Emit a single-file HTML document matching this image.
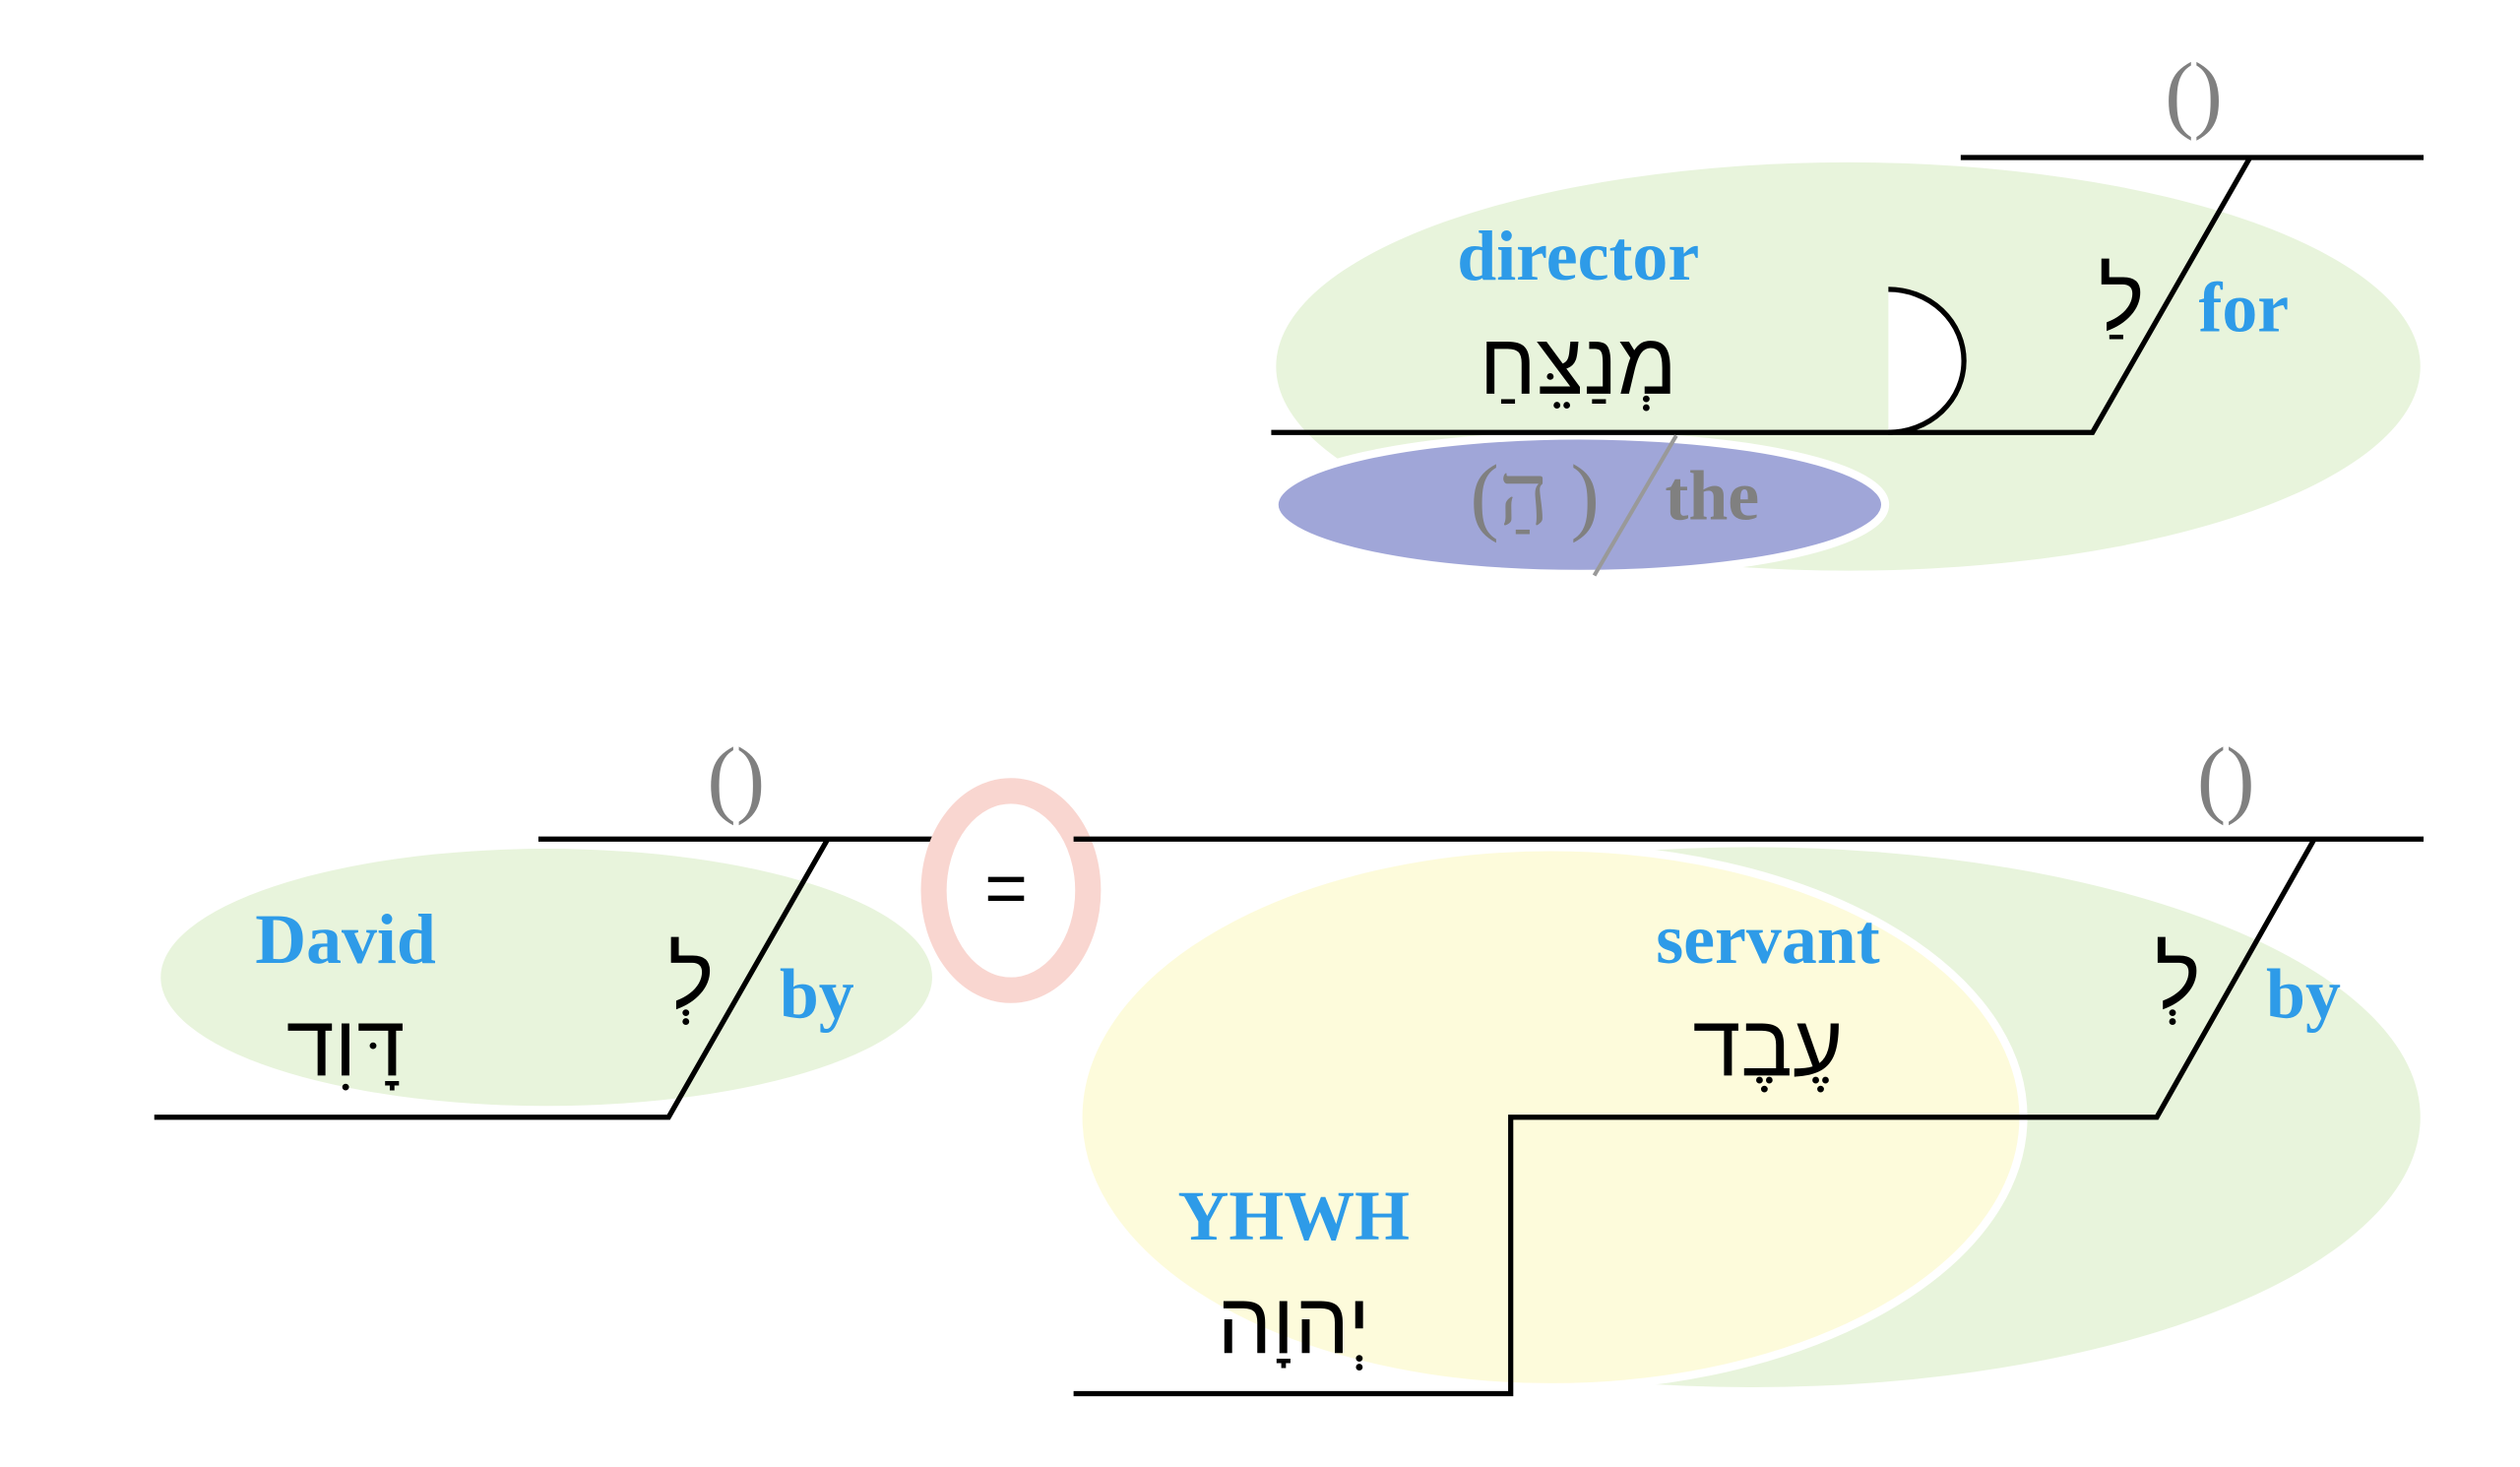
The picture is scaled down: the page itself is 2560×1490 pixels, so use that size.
<!DOCTYPE html>
<html><head><meta charset="utf-8"><style>
html,body{margin:0;padding:0;background:#fff;}
svg{display:block;}
.en{font-family:"Liberation Serif",serif;font-weight:bold;fill:#2e9be8;font-size:44px;}
.he{font-family:"Liberation Sans","Noto Sans CJK SC","DejaVu Sans",sans-serif;fill:#000;font-size:54px;}
.gr{font-family:"Liberation Serif",serif;fill:#808080;font-size:54px;}
</style></head><body>
<svg width="2560" height="1490" viewBox="0 0 1568 912.6" xmlns="http://www.w3.org/2000/svg">
<rect x="0" y="0" width="1568" height="912.6" fill="#fff"/>
<!-- top -->
<ellipse cx="1150" cy="228" rx="356" ry="127" fill="#e8f4dc"/>
<ellipse cx="983" cy="314" rx="190" ry="43" fill="#a0a6d8" stroke="#fff" stroke-width="5"/>
<path d="M1175,180 A47,44.5 0 0 1 1175,269 Z" fill="#fff"/>
<path d="M1175,180 A47,44.5 0 0 1 1175,269" fill="none" stroke="#000" stroke-width="3.2"/>
<path d="M1220,98 H1508 M1400,98 L1302,269 H791" fill="none" stroke="#000" stroke-width="3.2"/>
<line x1="1043" y1="271" x2="992" y2="358" stroke="#999" stroke-width="2.5"/>
<text x="1365" y="76" class="gr" text-anchor="middle">()</text>
<text x="982" y="174" class="en" text-anchor="middle">director</text>
<text x="982" y="245" class="he" text-anchor="middle" direction="rtl">מְנַצֵּחַ</text>
<text x="1320" y="205" class="he" text-anchor="middle">לַ</text>
<text x="1368" y="206" class="en">for</text>
<text x="955" y="326" class="gr" text-anchor="middle">(הַ )</text>
<text x="1036" y="323" class="en" style="fill:#808080">the</text>
<!-- bottom left -->
<ellipse cx="340" cy="608" rx="240" ry="80" fill="#e8f4dc"/>
<path d="M335,522 H583 M515,522 L416,695 H96" fill="none" stroke="#000" stroke-width="3.2"/>
<text x="458" y="502" class="gr" text-anchor="middle">()</text>
<text x="215" y="599" class="en" text-anchor="middle">David</text>
<text x="215" y="669" class="he" text-anchor="middle" direction="rtl">דָּוִד</text>
<text x="430" y="627" class="he" text-anchor="middle">לְ</text>
<text x="485" y="633" class="en">by</text>
<ellipse cx="629" cy="554" rx="48" ry="62" fill="none" stroke="#f9d6d0" stroke-width="16"/>
<text x="626" y="568" style="font-family:'Liberation Sans',sans-serif;font-size:46px" text-anchor="middle">=</text>
<!-- bottom right -->
<ellipse cx="1090" cy="695" rx="416" ry="168" fill="#e8f4dc"/>
<ellipse cx="965" cy="695" rx="294" ry="168" fill="#fdfbdb" stroke="#fff" stroke-width="5"/>
<path d="M668,522 H1508 M1440,522 L1342,695 H940 V867 H668" fill="none" stroke="#000" stroke-width="3.2"/>
<text x="1385" y="502" class="gr" text-anchor="middle">()</text>
<text x="1100" y="599" class="en" text-anchor="middle">servant</text>
<text x="1100" y="669" class="he" text-anchor="middle" direction="rtl">עֶבֶד</text>
<text x="1355" y="627" class="he" text-anchor="middle">לְ</text>
<text x="1410" y="633" class="en">by</text>
<text x="805" y="771" class="en" text-anchor="middle">YHWH</text>
<text x="805" y="842" class="he" text-anchor="middle" direction="rtl">יְהוָה</text>
</svg>
</body></html>
